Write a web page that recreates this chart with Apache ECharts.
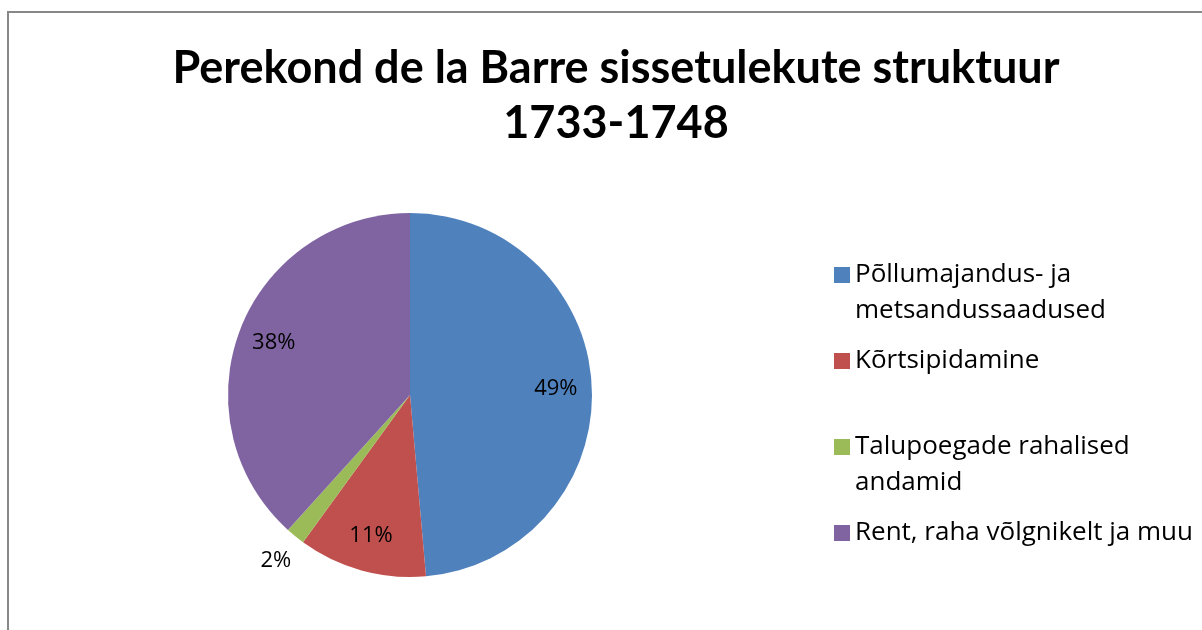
<!DOCTYPE html>
<html>
<head>
    <meta charset="utf-8">
    <title>Perekond de la Barre</title>
    <script src="https://cdn.jsdelivr.net/npm/echarts@6/dist/echarts.min.js"></script>
    <style>
        body { margin: 0; background: #fff; overflow: hidden; }
        /* chart frame, right and bottom edges fall outside the window */
        .frame {
            position: absolute;
            left: 7px; top: 11px;
            width: 1220px; height: 650px;
            border: 2px solid #888;
        }
        #chart {
            position: absolute;
            left: 0; top: 0;
            width: 1202px; height: 630px;
        }
    </style>
</head>
<body>
    <div class="frame"></div>
    <div id="chart"></div>

    <script>
        // data
        var titleText = 'Perekond de la Barre sissetulekute struktuur\n1733-1748';
        var categories = [
            'Põllumajandus- ja metsandussaadused',
            'Kõrtsipidamine',
            'Talupoegade rahalised andamid',
            'Rent, raha võlgnikelt ja muu'
        ];
        // legend text as wrapped in the picture (leading blank line keeps the square on the first line)
        var legendText = [
            '\nPõllumajandus- ja\nmetsandussaadused',
            'Kõrtsipidamine',
            '\nTalupoegade rahalised\nandamid',
            'Rent, raha võlgnikelt ja muu'
        ];
        var values = [48.6, 11.4, 1.7, 38.3];
        var colors = ['#4F81BD', '#C0504D', '#9BBB59', '#8064A2'];

        var titleFont = 'Lato, "Open Sans", sans-serif';
        var font = '"Open Sans", Lato, sans-serif';
        var center = [410, 395];

        var pieData = categories.map(function (name, i) {
            return { name: name, value: values[i] };
        });

        function pctLabel(p) {
            return Math.round(p.percent) + '%';
        }

        var chart = echarts.init(document.getElementById('chart'));
        var option = {
            animation: false,
            color: colors,
            title: {
                text: titleText,
                left: 611,
                top: 36,
                textAlign: 'center',
                textStyle: {
                    fontFamily: titleFont,
                    fontWeight: 'bold',
                    fontSize: 45,
                    lineHeight: 55,
                    color: '#000'
                }
            },
            legend: {
                orient: 'vertical',
                left: 829,
                top: 216,
                itemWidth: 16,
                itemHeight: 16,
                itemGap: 14,
                icon: 'rect',
                data: categories,
                formatter: function (name) {
                    return legendText[categories.indexOf(name)];
                },
                textStyle: {
                    fontFamily: font,
                    fontSize: 26,
                    lineHeight: 36,
                    color: '#000'
                }
            },
            series: [
                {
                    // the pie itself
                    type: 'pie',
                    center: center,
                    radius: 182,
                    startAngle: 90,
                    clockwise: true,
                    silent: true,
                    label: { show: false },
                    labelLine: { show: false },
                    itemStyle: { borderWidth: 0 },
                    data: pieData
                },
                {
                    // labels inside the slices
                    type: 'pie',
                    center: center,
                    radius: [104, 182],
                    startAngle: 90,
                    silent: true,
                    itemStyle: { color: 'transparent' },
                    label: {
                        position: 'inside',
                        formatter: function (p) {
                            return p.dataIndex === 2 ? '' : pctLabel(p);
                        },
                        fontFamily: font,
                        fontSize: 22,
                        color: '#000'
                    },
                    labelLine: { show: false },
                    data: pieData
                },
                {
                    // label for the small slice, outside the pie
                    type: 'pie',
                    center: center,
                    radius: [184, 236],
                    startAngle: 90,
                    silent: true,
                    itemStyle: { color: 'transparent' },
                    label: {
                        position: 'inside',
                        formatter: function (p) {
                            return p.dataIndex === 2 ? pctLabel(p) : '';
                        },
                        fontFamily: font,
                        fontSize: 22,
                        color: '#000'
                    },
                    labelLine: { show: false },
                    data: pieData
                }
            ]
        };
        chart.setOption(option);
    </script>
</body>
</html>
